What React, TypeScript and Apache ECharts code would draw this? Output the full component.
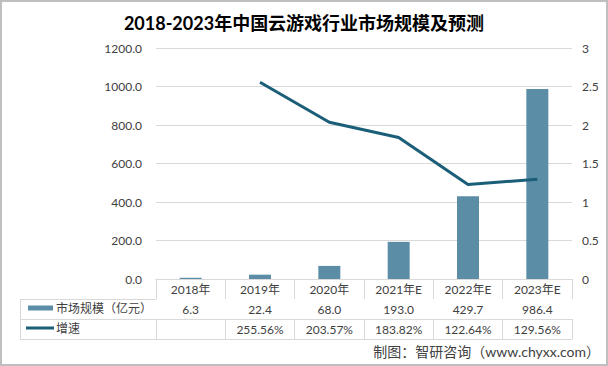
import React, { useEffect, useRef } from "react";
import * as echarts from "echarts";

const categories = ["2018年", "2019年", "2020年", "2021年E", "2022年E", "2023年E"];
const marketSize = [6.3, 22.4, 68.0, 193.0, 429.7, 986.4];
const growthPct: (number | null)[] = [null, 255.56, 203.57, 183.82, 122.64, 129.56];
const leftAxis = { min: 0, max: 1200, interval: 200 };
const rightAxis = { min: 0, max: 3, interval: 0.5 };
const barName = "市场规模（亿元）";
const lineName = "增速";
const titleText = "2018-2023年中国云游戏行业市场规模及预测";
const sourceText = "制图：智研咨询（www.chyxx.com）";

const FONT = "Lato, 'Noto Sans CJK SC', sans-serif";
const BAR_COLOR = "#5b8ea6";
const LINE_COLOR = "#1b5e78";
const GRID_COLOR = "#d9d9d9";
const TEXT_COLOR = "#404040";

export default function App() {
  const ref = useRef<HTMLDivElement>(null);
  useEffect(() => {
    document.body.style.margin = "0";
    if (!ref.current) return;
    const chart = echarts.init(ref.current, undefined, { renderer: "svg" });
    const sizeLabels = marketSize.map((v) => v.toFixed(1));
    const growthLabels = growthPct.map((v) => (v == null ? "" : v.toFixed(2) + "%"));
    const lineData = growthPct.map((v) => (v == null ? null : v / 100));
    const rowAxis = (data: string[], offset: number, showLabel = true, showTick = true) => ({
      type: "category",
      position: "bottom",
      offset,
      data,
      boundaryGap: true,
      axisLine: { show: true, lineStyle: { color: GRID_COLOR, width: 1 } },
      axisTick: { show: showTick, length: 20, interval: 0, lineStyle: { color: GRID_COLOR } },
      axisLabel: { show: showLabel, interval: 0, margin: 4, color: TEXT_COLOR, fontSize: 12, fontFamily: FONT },
      splitLine: { show: false },
    });
    chart.setOption({
      animation: false,
      backgroundColor: "#ffffff",
      textStyle: { fontFamily: FONT },
      title: {
        text: titleText,
        left: "center",
        top: 9,
        textStyle: { fontSize: 18, fontWeight: "bold", color: "#000", fontFamily: FONT },
      },
      legend: [
        {
          data: [{ name: barName, icon: "rect" }],
          left: 28,
          top: 302,
          padding: 0,
          itemWidth: 25,
          itemHeight: 5,
          selectedMode: false,
          textStyle: { fontSize: 12, color: TEXT_COLOR, fontFamily: FONT, padding: [0, 0, 0, -2] },
        },
        {
          data: [{ name: lineName, icon: "rect" }],
          left: 26,
          top: 322,
          padding: 0,
          itemWidth: 28,
          itemHeight: 3,
          selectedMode: false,
          textStyle: { fontSize: 12, color: TEXT_COLOR, fontFamily: FONT, padding: [0, 0, 0, -3] },
        },
      ],
      grid: { left: 156, right: 36, top: 48, bottom: 87, containLabel: false },
      xAxis: [
        rowAxis(categories, 0),
        rowAxis(sizeLabels, 20),
        rowAxis(growthLabels, 40),
        rowAxis(categories, 60, false, false),
      ],
      yAxis: [
        {
          type: "value",
          min: leftAxis.min,
          max: leftAxis.max,
          interval: leftAxis.interval,
          axisLine: { show: false },
          axisTick: { show: false },
          axisLabel: {
            margin: 14,
            color: TEXT_COLOR,
            fontSize: 12,
            fontFamily: FONT,
            formatter: (v: number) => v.toFixed(1),
          },
          splitLine: { lineStyle: { color: GRID_COLOR } },
        },
        {
          type: "value",
          min: rightAxis.min,
          max: rightAxis.max,
          interval: rightAxis.interval,
          axisLine: { show: false },
          axisTick: { show: false },
          axisLabel: { margin: 10, color: TEXT_COLOR, fontSize: 12, fontFamily: FONT },
          splitLine: { show: false },
        },
      ],
      series: [
        {
          name: barName,
          type: "bar",
          xAxisIndex: 0,
          yAxisIndex: 0,
          data: marketSize,
          barWidth: 22,
          itemStyle: { color: BAR_COLOR },
        },
        {
          name: lineName,
          type: "line",
          xAxisIndex: 0,
          yAxisIndex: 1,
          data: lineData,
          symbol: "none",
          lineStyle: { color: LINE_COLOR, width: 3 },
          itemStyle: { color: LINE_COLOR },
        },
      ],
      graphic: [
        {
          type: "rect",
          shape: { x: 1, y: 1, width: 606, height: 364 },
          style: { fill: "none", stroke: "#bfbfbf", lineWidth: 2 },
          silent: true,
        },
        { type: "line", shape: { x1: 20, y1: 299.5, x2: 156, y2: 299.5 }, style: { stroke: GRID_COLOR, lineWidth: 1 } },
        { type: "line", shape: { x1: 20, y1: 319.5, x2: 156, y2: 319.5 }, style: { stroke: GRID_COLOR, lineWidth: 1 } },
        { type: "line", shape: { x1: 20, y1: 339.5, x2: 156, y2: 339.5 }, style: { stroke: GRID_COLOR, lineWidth: 1 } },
        { type: "line", shape: { x1: 20.5, y1: 299, x2: 20.5, y2: 340 }, style: { stroke: GRID_COLOR, lineWidth: 1 } },
        {
          type: "text",
          right: 8,
          top: 344,
          style: { text: sourceText, fontSize: 14, fill: TEXT_COLOR, fontFamily: FONT },
        },
      ],
    });
    return () => chart.dispose();
  }, []);
  return <div ref={ref} style={{ width: 608, height: 366 }} />;
}
